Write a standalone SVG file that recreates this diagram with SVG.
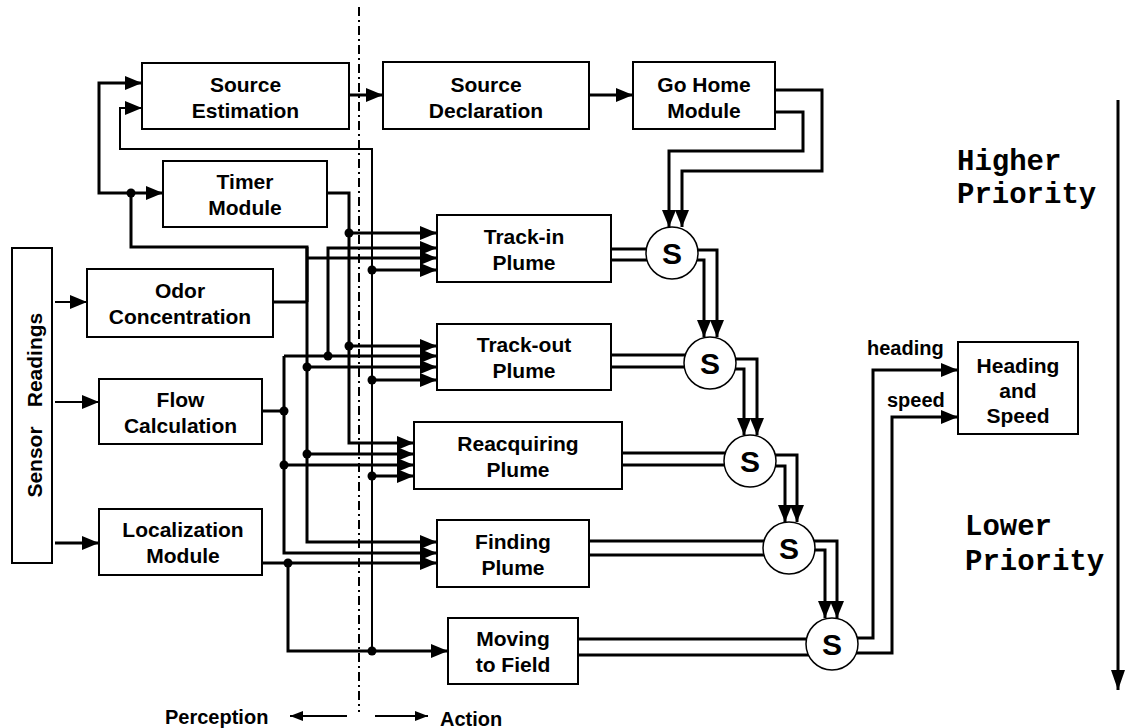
<svg xmlns="http://www.w3.org/2000/svg" width="1125" height="728" viewBox="0 0 1125 728">
<style>
.box{fill:#fff;stroke:#000;stroke-width:2}
.t{font-family:"Liberation Sans",Arial,sans-serif;font-weight:bold;font-size:21px;text-anchor:middle;fill:#000}
.lbl{font-family:"Liberation Sans",Arial,sans-serif;font-weight:bold;font-size:20px;fill:#000}
.mono{font-family:"Liberation Mono","Courier New",monospace;font-weight:bold;font-size:29px;fill:#000}
.w{fill:none;stroke:#000;stroke-width:3}
.n{fill:none;stroke:#000;stroke-width:2}
.s{fill:#fff;stroke:#000;stroke-width:1.5}
.st{font-family:"Liberation Sans",Arial,sans-serif;font-weight:bold;font-size:30px;text-anchor:middle;fill:#000}
.a{marker-end:url(#ah)}
</style>
<defs>
<marker id="ah" markerUnits="userSpaceOnUse" markerWidth="17" markerHeight="14" refX="17" refY="7" orient="auto"><path d="M0,0 L17,7 L0,14 z" fill="#000"/></marker>
<marker id="big" markerUnits="userSpaceOnUse" markerWidth="20" markerHeight="14" refX="20" refY="7" orient="auto"><path d="M0,0 L20,7 L0,14 z" fill="#000"/></marker>
<marker id="sm" markerUnits="userSpaceOnUse" markerWidth="13" markerHeight="10" refX="13" refY="5" orient="auto"><path d="M0,0 L13,5 L0,10 z" fill="#000"/></marker>
</defs>
<rect width="1125" height="728" fill="#fff"/>

<g id="connectors">
<!-- top chain -->
<path class="w a" d="M349,95 H383"/>
<path class="w a" d="M589,95 H633"/>
<!-- sensor outputs -->
<path class="n a" d="M55,302 H87"/>
<path class="n a" d="M55,402 H99"/>
<path class="w a" d="M55,543 H99"/>
<!-- odor network -->
<path class="w" d="M273,302 H307"/>
<path class="w" d="M307,302 V247 H131 V193"/>
<path class="w a" d="M131,193 H163"/>
<path class="w a" d="M131,193 H99 V83 H142"/>
<path class="w a" d="M307,247 V542 H437"/>
<path class="w a" d="M307,258 H437"/>
<path class="w a" d="M307,367 H437"/>
<path class="w a" d="M307,454 H414"/>
<!-- flow network -->
<path class="w" d="M262,411 H284"/>
<path class="w a" d="M284,356 V553 H437"/>
<path class="w a" d="M284,356 H437"/>
<path class="w a" d="M328,356 V248 H437"/>
<path class="w a" d="M284,465 H414"/>
<!-- timer network -->
<path class="w a" d="M327,193 H349 V443 H414"/>
<path class="w a" d="M349,233 H437"/>
<path class="w a" d="M349,346 H437"/>
<!-- localization network -->
<path class="w a" d="M262,563 H437"/>
<path class="w a" d="M288,563 V651 H448"/>
<path class="n a" d="M372,651 V149 H120 V108 H142"/>
<path class="w a" d="M372,270 H437"/>
<path class="w a" d="M372,380 H437"/>
<path class="w a" d="M372,476 H414"/>
<!-- go home to S1 -->
<path class="w a" d="M775,90 H822 V171 H682 V227"/>
<path class="w a" d="M775,112 H803 V151 H669 V227"/>
<!-- plume to S double lines -->
<path class="w" d="M611,249 H672 M611,260 H672"/>
<path class="w" d="M611,355 H710 M611,367 H710"/>
<path class="w" d="M622,453 H750 M622,465 H750"/>
<path class="w" d="M589,541 H789 M589,555 H789"/>
<path class="w" d="M578,639 H832 M578,655 H832"/>
<!-- S chain -->
<path class="w a" d="M672,250 H717 V337"/>
<path class="w a" d="M672,260 H704 V337"/>
<path class="w a" d="M710,359 H757 V435"/>
<path class="w a" d="M710,369 H744 V435"/>
<path class="w a" d="M750,455 H797 V522"/>
<path class="w a" d="M750,466 H785 V522"/>
<path class="w a" d="M789,541 H837 V618"/>
<path class="w a" d="M789,550 H825 V618"/>
<!-- S5 to heading/speed -->
<path class="w a" d="M832,638 H873 V370 H958"/>
<path class="w a" d="M832,653 H892 V417 H958"/>
<!-- dots -->
<g fill="#000">
<circle cx="131" cy="193" r="4.5"/>
<circle cx="307" cy="367" r="4.5"/>
<circle cx="307" cy="454" r="4.5"/>
<circle cx="284" cy="411" r="4.5"/>
<circle cx="328" cy="356" r="4.5"/>
<circle cx="284" cy="465" r="4.5"/>
<circle cx="349" cy="233" r="4.5"/>
<circle cx="349" cy="346" r="4.5"/>
<circle cx="288" cy="563" r="4.5"/>
<circle cx="372" cy="651" r="4.5"/>
<circle cx="372" cy="270" r="4.5"/>
<circle cx="372" cy="380" r="4.5"/>
<circle cx="372" cy="476" r="4.5"/>
</g>
<!-- perception/action divider -->
<path d="M359,7 V712" fill="none" stroke="#000" stroke-width="2" stroke-dasharray="9,4,2,4"/>
<path class="n" d="M347,716 H290" marker-end="url(#sm)"/>
<path class="n" d="M375,716 H428" marker-end="url(#sm)"/>
<!-- priority arrow -->
<path d="M1118,100 V690" fill="none" stroke="#000" stroke-width="3" marker-end="url(#big)"/>
<text class="lbl" x="867" y="355">heading</text>
<text class="lbl" x="887" y="407">speed</text>
</g>

<g id="sensor-readings">
<rect class="box" x="12" y="248" width="40" height="315"/>
<text class="t" transform="translate(42,462) rotate(-90)">Sensor</text>
<text class="t" transform="translate(42,360) rotate(-90)">Readings</text>
</g>
<g id="source-estimation">
<rect class="box" x="142" y="63" width="207" height="66"/>
<text class="t" x="245.5" y="92">Source</text>
<text class="t" x="245.5" y="118">Estimation</text>
</g>
<g id="source-declaration">
<rect class="box" x="383" y="62" width="206" height="67"/>
<text class="t" x="486" y="92">Source</text>
<text class="t" x="486" y="118">Declaration</text>
</g>
<g id="go-home">
<rect class="box" x="633" y="62" width="142" height="67"/>
<text class="t" x="704" y="92">Go Home</text>
<text class="t" x="704" y="118">Module</text>
</g>
<g id="timer-module">
<rect class="box" x="163" y="161" width="164" height="66"/>
<text class="t" x="245" y="189">Timer</text>
<text class="t" x="245" y="215">Module</text>
</g>
<g id="odor-concentration">
<rect class="box" x="87" y="269" width="186" height="68"/>
<text class="t" x="180" y="298">Odor</text>
<text class="t" x="180" y="324">Concentration</text>
</g>
<g id="flow-calculation">
<rect class="box" x="99" y="379" width="163" height="65"/>
<text class="t" x="180.5" y="407">Flow</text>
<text class="t" x="180.5" y="433">Calculation</text>
</g>
<g id="localization-module">
<rect class="box" x="99" y="509" width="163" height="66"/>
<text class="t" x="183" y="537">Localization</text>
<text class="t" x="183" y="563">Module</text>
</g>
<g id="track-in">
<rect class="box" x="437" y="215" width="174" height="67"/>
<text class="t" x="524" y="244">Track-in</text>
<text class="t" x="524" y="270">Plume</text>
</g>
<g id="track-out">
<rect class="box" x="437" y="324" width="174" height="66"/>
<text class="t" x="524" y="352">Track-out</text>
<text class="t" x="524" y="378">Plume</text>
</g>
<g id="reacquiring">
<rect class="box" x="414" y="422" width="208" height="67"/>
<text class="t" x="518" y="451">Reacquiring</text>
<text class="t" x="518" y="477">Plume</text>
</g>
<g id="finding">
<rect class="box" x="437" y="520" width="152" height="67"/>
<text class="t" x="513" y="549">Finding</text>
<text class="t" x="513" y="575">Plume</text>
</g>
<g id="moving">
<rect class="box" x="448" y="618" width="130" height="66"/>
<text class="t" x="513" y="646">Moving</text>
<text class="t" x="513" y="672">to Field</text>
</g>
<g id="heading-speed">
<rect class="box" x="958" y="342" width="120" height="92"/>
<text class="t" x="1018" y="373">Heading</text>
<text class="t" x="1018" y="398">and</text>
<text class="t" x="1018" y="423">Speed</text>
</g>
<g id="s1"><circle class="s" cx="672" cy="253" r="26"/><text class="st" x="672" y="264">S</text></g>
<g id="s2"><circle class="s" cx="710" cy="363" r="26"/><text class="st" x="710" y="374">S</text></g>
<g id="s3"><circle class="s" cx="750" cy="461" r="26"/><text class="st" x="750" y="472">S</text></g>
<g id="s4"><circle class="s" cx="789" cy="548" r="26"/><text class="st" x="789" y="559">S</text></g>
<g id="s5"><circle class="s" cx="832" cy="644" r="26"/><text class="st" x="832" y="655">S</text></g>

<g id="labels">
<text class="mono" x="957" y="170">Higher</text>
<text class="mono" x="957" y="203">Priority</text>
<text class="mono" x="965" y="535">Lower</text>
<text class="mono" x="965" y="570">Priority</text>
<text class="lbl" x="165" y="724">Perception</text>
<text class="lbl" x="440" y="726">Action</text>
</g>
</svg>
